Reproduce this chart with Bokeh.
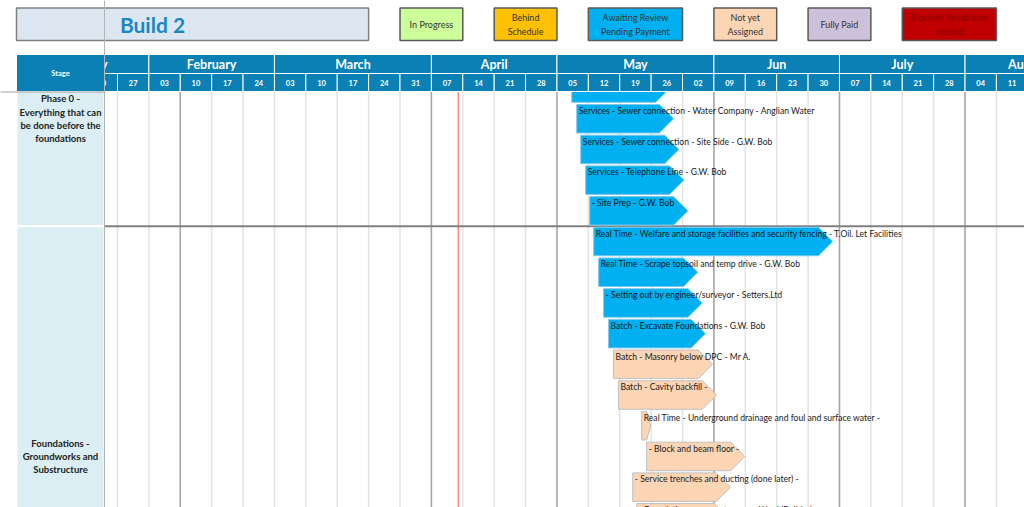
from bokeh.plotting import figure
from bokeh.models import Range1d
from bokeh.core.properties import value
from bokeh.embed import file_html
from bokeh.resources import INLINE

# ---------------- data ----------------
# days counted from Monday 27 Jan 2020
week_labels = ["20", "27", "03", "10", "17", "24", "03", "10", "17", "24", "31", "07", "14",
               "21", "28", "05", "12", "19", "26", "02", "09", "16", "23", "30", "07", "14",
               "21", "28", "04", "11"]
first_week_day = -7
month_names = ["January", "February", "March", "April", "May", "Jun", "July", "August"]
month_start = [-21, 7, 35, 70, 98, 133, 161, 189]
month_end = [7, 35, 70, 98, 133, 161, 189, 217]
dark_line_days = [14, 70, 98, 133, 161, 189]
today_day = 76

stage_names = ["Phase 0 -\nEverything that can\nbe done before the\nfoundations",
               "Foundations -\nGroundworks and\nSubstructure"]
stage_first_row = [-2, 5]
stage_last_row = [4, 19]

task_labels = [
    "",
    "Services - Sewer connection - Water Company - Anglian Water",
    "Services - Sewer connection - Site Side - G.W. Bob",
    "Services - Telephone Line - G.W. Bob",
    " - Site Prep - G.W. Bob",
    "Real Time - Welfare and storage facilities and security fencing - T.Oil. Let Facilities",
    "Real Time - Scrape topsoil and temp drive - G.W. Bob",
    " - Setting out by engineer/surveyor - Setters.Ltd",
    "Batch - Excavate Foundations - G.W. Bob",
    "Batch - Masonry below DPC - Mr A.",
    "Batch - Cavity backfill -",
    "Real Time - Underground drainage and foul and surface water  -",
    " - Block and beam floor -",
    " - Service trenches and ducting (done later) -",
    " - Foundations - concrete pour - Ward (Builder)",
]
task_row = list(range(15))
task_start = [101.3, 102.4, 103.3, 104.4, 105.3, 106.2, 107.3, 108.4, 109.5, 110.6, 111.7,
              116.9, 118.0, 114.9, 115.8]
task_days = [21.9, 21.6, 21.9, 21.9, 21.9, 53.3, 22.1, 22.0, 21.6, 22.1, 21.9, 2.0, 21.9,
             21.8, 20.5]
task_status = ["Awaiting Review Pending Payment"] * 9 + ["Not yet Assigned"] * 6

legend_labels = ["In Progress", "Behind\nSchedule", "Awaiting Review\nPending Payment",
                 "Not yet\nAssigned", "Fully Paid", "Blocker/ Resolution\nneeded"]
legend_keys = ["In Progress", "Behind Schedule", "Awaiting Review Pending Payment",
               "Not yet Assigned", "Fully Paid", "Blocker/ Resolution needed"]
legend_colors = ["#ccff99", "#ffc000", "#00b0f0", "#fcd5b4", "#ccc0da", "#c00000"]
legend_text_colors = ["#333333", "#333333", "#333333", "#333333", "#333333", "#8a0000"]
legend_start = [63, 84, 105, 133, 154, 175]
legend_end = [77, 98, 126, 147, 168, 196]
title_text = "Build 2"
title_end_day = 56

status_color = dict(zip(legend_keys, legend_colors))
status_line = {"Awaiting Review Pending Payment": "#7fc8ea", "Not yet Assigned": "#bfbfbf"}

# ---------------- layout helpers (page pixel -> data) ----------------
PX_PER_DAY = 31.39 / 7
PX_PER_ROW = 30.7


def X(px):
    return (px - 117) / PX_PER_DAY


def Y(py):
    return 1 + (py - 118.25) / PX_PER_ROW


HDR = "#0a80b4"
FONT = value("Lato")

p = figure(width=1024, height=507, x_range=Range1d(X(0), X(1024)),
           y_range=Range1d(Y(507), Y(0)), output_backend="svg", toolbar_location=None,
           min_border=0, x_axis_location=None, y_axis_location=None)
p.grid.visible = False
p.outline_line_color = None
p.background_fill_color = "white"
p.border_fill_color = "white"

# stage column
p.quad(left=[X(16)] * 2, right=[X(104)] * 2, top=[r - 0.5 for r in stage_first_row],
       bottom=[r + 0.5 for r in stage_last_row], fill_color="#daeef3", line_color="white",
       line_width=2)
p.text(x=[X(60)] * 2, y=[(a + b) / 2 for a, b in zip(stage_first_row, stage_last_row)],
       text=stage_names, text_font=FONT, text_font_style="bold", text_font_size="9.5px",
       text_align="center", text_baseline="middle", text_line_height=1.21, text_color="#222222")

# body grid
ybot = Y(507)
ytop = Y(91)
wk = [first_week_day + 7 * (i + 1) for i in range(len(week_labels))]
p.segment(x0=wk, y0=[ytop] * len(wk), x1=wk, y1=[ybot] * len(wk), line_color="#e3e3e3",
          line_width=1.5)
p.segment(x0=dark_line_days, y0=[ytop] * len(dark_line_days), x1=dark_line_days,
          y1=[ybot] * len(dark_line_days), line_color="#a6a6a6", line_width=1.5)
p.segment(x0=[today_day], y0=[ytop], x1=[today_day], y1=[ybot], line_color="#ff8c8c",
          line_width=1.5)
p.segment(x0=[X(104)] * 1, y0=[stage_last_row[0] + 0.5], x1=[X(1024)],
          y1=[stage_last_row[0] + 0.5], line_color="#808080", line_width=2)

# bars (chevrons)
bh = 0.464
tip_full = bh * PX_PER_ROW / PX_PER_DAY
xs, ys, fc, lc = [], [], [], []
for s, d, r, st in zip(task_start, task_days, task_row, task_status):
    e = s + d
    t = min(tip_full, 0.45 * d)
    xs.append([s, e - t, e, e - t, s])
    ys.append([r - bh, r - bh, r, r + bh, r + bh])
    fc.append(status_color[st])
    lc.append(status_line[st])
p.patches(xs=xs, ys=ys, fill_color=fc, line_color=lc, line_width=1)
p.text(x=[s + 0.45 for s in task_start], y=[r - 0.255 for r in task_row], text=task_labels,
       text_font=FONT, text_font_size="8.6px", text_align="left", text_baseline="middle",
       text_color="#1a1a1a")

# mask above body
p.quad(left=[X(0)], right=[X(1024)], top=[Y(0)], bottom=[Y(91)], fill_color="white",
       line_color=None)

# header
p.quad(left=month_start, right=month_end, top=[Y(54)] * len(month_start),
       bottom=[Y(73)] * len(month_start), fill_color=HDR, line_color="white", line_width=1)
p.quad(left=[first_week_day + 7 * i for i in range(len(week_labels))],
       right=[first_week_day + 7 * (i + 1) for i in range(len(week_labels))],
       top=[Y(73)] * len(week_labels), bottom=[Y(91)] * len(week_labels), fill_color=HDR,
       line_color="white", line_width=1)
p.text(x=[(a + b) / 2 for a, b in zip(month_start, month_end)], y=[Y(63.5)] * len(month_names),
       text=month_names, text_font=FONT, text_font_style="bold", text_font_size="12.5px",
       text_align="center", text_baseline="middle", text_color="white")
p.text(x=[first_week_day + 7 * i + 3.5 for i in range(len(week_labels))],
       y=[Y(82)] * len(week_labels), text=week_labels, text_font=FONT, text_font_style="bold",
       text_font_size="7.5px", text_align="center", text_baseline="middle", text_color="white")

# frozen left part of header
p.quad(left=[X(0)], right=[X(104)], top=[Y(53)], bottom=[Y(91)], fill_color="white",
       line_color=None)
p.quad(left=[X(16)], right=[X(104)], top=[Y(54)], bottom=[Y(91)], fill_color=HDR,
       line_color="white", line_width=1)
p.text(x=[X(60)], y=[Y(73)], text=["Stage"], text_font=FONT, text_font_style="bold",
       text_font_size="7.5px", text_align="center", text_baseline="middle", text_color="white")

# title box
p.quad(left=[X(16)], right=[title_end_day], top=[Y(7.5)], bottom=[Y(40)], fill_color="#dce6f1",
       line_color="#808080", line_width=1.5)
p.text(x=[X(152)], y=[Y(24)], text=[title_text], text_font=FONT, text_font_style="bold",
       text_font_size="21px", text_align="center", text_baseline="middle", text_color="#1a86c2")

# legend boxes
n = len(legend_labels)
p.quad(left=legend_start, right=legend_end, top=[Y(7.5)] * n, bottom=[Y(40)] * n,
       fill_color=legend_colors, line_color="#595959", line_width=1.5)
p.text(x=[(a + b) / 2 for a, b in zip(legend_start, legend_end)], y=[Y(24)] * n,
       text=legend_labels, text_font=FONT, text_font_size="9px", text_align="center",
       text_baseline="middle", text_line_height=1.25, text_color=legend_text_colors)

# frozen pane lines
p.segment(x0=[X(104)], y0=[Y(0)], x1=[X(104)], y1=[Y(507)], line_color="#b4b4b4",
          line_width=1)
p.segment(x0=[X(0)], y0=[Y(91.5)], x1=[X(104)], y1=[Y(91.5)], line_color="#a0a0a0",
          line_width=1)

open("out.html", "w").write(file_html(p, INLINE))
